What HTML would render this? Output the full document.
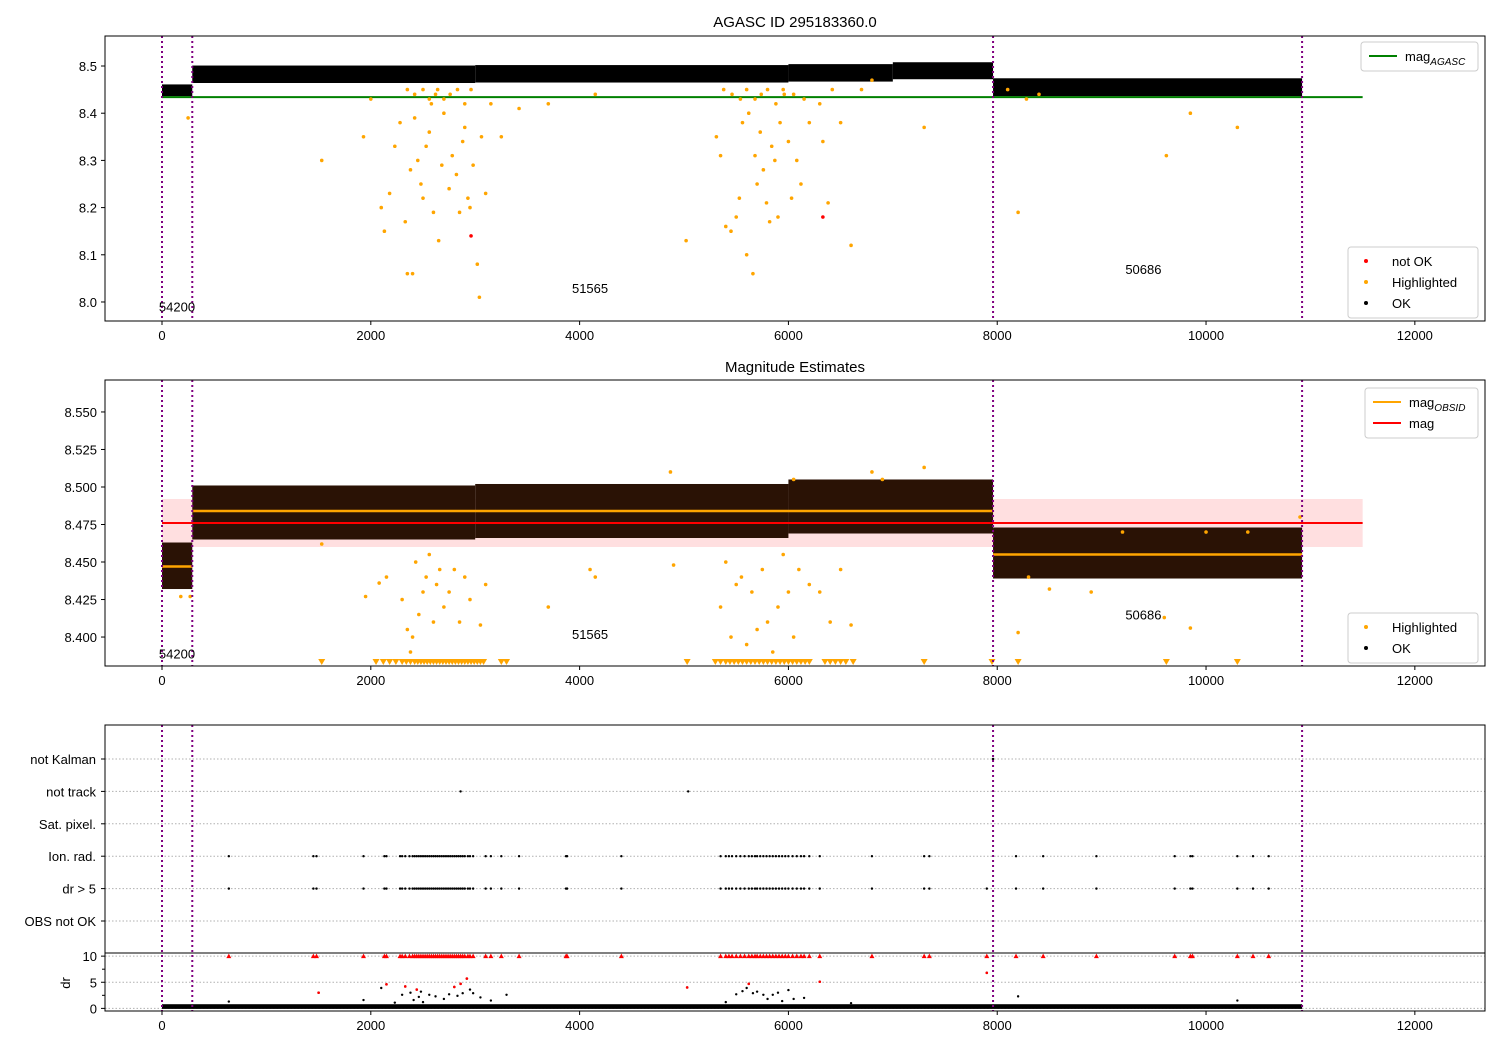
<!DOCTYPE html>
<html><head><meta charset="utf-8"><style>
body{margin:0;background:#fff}
svg{display:block;font-family:"Liberation Sans","DejaVu Sans",sans-serif}
text{fill:#000}
</style></head><body>
<svg id="fig" width="1500" height="1050" viewBox="0 0 1500 1050" xmlns="http://www.w3.org/2000/svg">
<rect width="1500" height="1050" fill="#fff"/>
<text x="795" y="27" font-size="15" text-anchor="middle">AGASC ID 295183360.0</text>
<text x="795" y="372" font-size="15" text-anchor="middle">Magnitude Estimates</text>
<g id="g1"></g>
<g id="g2"></g>
<g id="g3"></g>
</svg>
<script>
// ---- data ----
const obsBounds = [0, 290, 7960, 10920];
const obsids = ["54200", "51565", "50686"];
const agascMag = 8.434;
const magMean = 8.476, magLo = 8.460, magHi = 8.492;
const obsMeans = [8.447, 8.484, 8.455];
// band segments panel 1: [x0,x1,lo,hi]
const band1 = [[0,290,8.436,8.461],[290,3000,8.464,8.501],[3000,6000,8.465,8.502],[6000,7000,8.467,8.504],[7000,7960,8.472,8.508],[7960,10920,8.436,8.474]];
const band2 = [[0,290,8.432,8.463],[290,3000,8.465,8.501],[3000,6000,8.466,8.502],[6000,7960,8.469,8.505],[7960,10920,8.439,8.473]];
const hi1 = [[250,8.39],[1530,8.30],[1930,8.35],[2000,8.43],[2100,8.20],[2130,8.15],[2180,8.23],[2230,8.33],[2280,8.38],[2330,8.17],[2350,8.06],[2400,8.06],[2380,8.28],[2420,8.39],[2450,8.30],[2480,8.25],[2500,8.22],[2530,8.33],[2560,8.36],[2580,8.42],[2600,8.19],[2620,8.44],[2650,8.13],[2680,8.29],[2700,8.40],[2750,8.24],[2780,8.31],[2820,8.27],[2850,8.19],[2880,8.34],[2900,8.37],[2930,8.22],[2950,8.20],[2980,8.29],[3020,8.08],[3040,8.01],[3060,8.35],[3100,8.23],[3150,8.42],[3250,8.35],[3420,8.41],[3700,8.42],[4150,8.44],[5020,8.13],[5310,8.35],[5350,8.31],[5400,8.16],[5450,8.15],[5500,8.18],[5530,8.22],[5560,8.38],[5600,8.10],[5620,8.40],[5660,8.06],[5680,8.31],[5700,8.25],[5730,8.36],[5760,8.28],[5790,8.21],[5820,8.17],[5840,8.33],[5870,8.30],[5900,8.18],[5920,8.38],[5960,8.44],[6000,8.34],[6030,8.22],[6080,8.30],[6120,8.25],[6200,8.38],[6330,8.34],[6380,8.21],[6500,8.38],[6600,8.12],[6800,8.47],[7300,8.37],[8200,8.19],[8280,8.43],[9620,8.31],[9850,8.40],[10300,8.37],[2350,8.45],[2420,8.44],[2500,8.45],[2560,8.43],[2640,8.45],[2700,8.43],[2760,8.44],[2830,8.45],[2900,8.42],[2960,8.45],[5380,8.45],[5460,8.44],[5540,8.43],[5600,8.45],[5680,8.43],[5740,8.44],[5800,8.45],[5880,8.42],[5950,8.45],[6050,8.44],[6150,8.43],[6300,8.42],[6420,8.45],[6700,8.45],[8100,8.45],[8400,8.44]];
const bad1 = [[2960,8.14],[6330,8.18]];
const hi2 = [[180,8.427],[270,8.427],[1530,8.462],[1950,8.427],[2080,8.436],[2150,8.44],[2300,8.425],[2350,8.405],[2380,8.39],[2400,8.40],[2430,8.45],[2460,8.415],[2500,8.43],[2530,8.44],[2560,8.455],[2600,8.41],[2630,8.435],[2660,8.445],[2700,8.42],[2750,8.43],[2800,8.445],[2850,8.41],[2900,8.44],[2950,8.425],[3050,8.408],[3100,8.435],[3700,8.42],[4100,8.445],[4150,8.44],[4870,8.51],[4900,8.448],[5350,8.42],[5400,8.45],[5450,8.40],[5500,8.435],[5550,8.44],[5600,8.395],[5650,8.43],[5700,8.405],[5750,8.445],[5800,8.41],[5850,8.39],[5900,8.42],[5950,8.455],[6000,8.43],[6050,8.40],[6050,8.505],[6100,8.445],[6200,8.435],[6300,8.43],[6400,8.41],[6500,8.445],[6600,8.408],[6800,8.51],[6900,8.505],[7300,8.513],[8200,8.403],[8300,8.44],[8500,8.432],[8900,8.43],[9200,8.47],[9600,8.413],[9850,8.406],[10000,8.47],[10400,8.47],[10900,8.48]];
const clip2 = [1530,2050,2120,2180,2240,2300,2340,2380,2420,2450,2480,2510,2540,2570,2600,2630,2660,2690,2720,2750,2780,2810,2840,2870,2900,2930,2960,2990,3020,3050,3080,3250,3300,5030,5300,5350,5400,5440,5480,5520,5560,5600,5640,5680,5720,5760,5800,5840,5880,5920,5960,6000,6040,6080,6120,6160,6200,6350,6400,6450,6500,6550,6620,7300,7950,8200,9620,10300];
const flagCats = ["not Kalman","not track","Sat. pixel.","Ion. rad.","dr > 5","OBS not OK"];
const notKalmanX = [7960];
const notTrackX = [2860, 5040];
const ionX = [640,1450,1480,1930,2130,2150,2280,2300,2330,2370,2400,2420,2440,2460,2480,2500,2520,2540,2560,2580,2600,2620,2640,2660,2680,2700,2720,2740,2760,2780,2800,2820,2840,2860,2880,2900,2930,2950,2980,3100,3150,3250,3420,3870,3880,4400,5350,5400,5430,5460,5500,5540,5580,5620,5650,5680,5700,5730,5760,5790,5820,5850,5880,5910,5940,5970,6000,6040,6080,6120,6150,6200,6300,6800,7300,7350,8180,8440,8950,9700,9850,9870,10300,10450,10600];
const drBigX = ionX.concat([7900]);
const drScatter = [[640,1.3],[1500,3.0],[1930,1.6],[2100,3.9],[2150,4.6],[2230,1.1],[2300,2.6],[2330,4.2],[2380,3.0],[2410,1.6],[2440,3.6],[2460,2.2],[2480,3.2],[2500,1.2],[2560,2.6],[2620,2.3],[2700,1.8],[2750,2.7],[2800,4.1],[2830,2.4],[2860,4.7],[2880,2.9],[2920,5.7],[2950,3.6],[2980,2.9],[3050,2.1],[3150,1.5],[3300,2.6],[5030,4.0],[5400,1.2],[5500,2.7],[5560,3.3],[5600,3.9],[5620,4.7],[5660,2.9],[5700,3.2],[5760,2.6],[5800,1.8],[5850,2.6],[5900,3.0],[5940,1.4],[6000,3.5],[6050,1.8],[6150,2.0],[6300,5.1],[6600,1.0],[7900,6.8],[8200,2.3],[10300,1.5]];
const drRedSet = [[1500,3.0],[2150,4.6],[2330,4.2],[2440,3.6],[2800,4.1],[2860,4.7],[2920,5.7],[5030,4.0],[5620,4.7],[6300,5.1],[7900,6.8]];

// ---- drawing ----
const NS="http://www.w3.org/2000/svg";
function mk(parent,tag,attrs){const e=document.createElementNS(NS,tag);for(const k in attrs)e.setAttribute(k,attrs[k]);parent.appendChild(e);return e;}
const X0=105,X1=1485,XMIN=-546,XMAX=12672;
const sx=v=>X0+(v-XMIN)/(XMAX-XMIN)*(X1-X0);
function yScale(top,bot,vmin,vmax){return v=>bot-(v-vmin)/(vmax-vmin)*(bot-top);}
const xTicks=[0,2000,4000,6000,8000,10000,12000];

function xAxis(g,bot){
  xTicks.forEach(t=>{
    mk(g,'line',{x1:sx(t),x2:sx(t),y1:bot,y2:bot+4,stroke:'#000'});
    const tx=mk(g,'text',{x:sx(t),y:bot+19,'font-size':13,'text-anchor':'middle'});tx.textContent=t;
    
    
  });
}
function yAxis(g,ys,ticks,fmt){
  ticks.forEach(t=>{
    mk(g,'line',{x1:X0-4,x2:X0,y1:ys(t),y2:ys(t),stroke:'#000'});
    const tx=mk(g,'text',{x:X0-8,y:ys(t)+5,'font-size':13,'text-anchor':'end'});tx.textContent=fmt(t);
    
    
  });
}
function vlines(g,top,bot){
  obsBounds.forEach(b=>{const l=mk(g,'line',{x1:sx(b),x2:sx(b),y1:top,y2:bot,stroke:'purple','stroke-width':2,'stroke-dasharray':'2,3'});
    
    });
}
function dots(g,pts,ys,color,r,name){
  pts.forEach(p=>{const c=mk(g,'circle',{cx:sx(p[0]),cy:ys(p[1]),r:r,fill:color});
    
    });
}
function band(g,segs,ys,fill){
  segs.forEach(s=>{const r=mk(g,'rect',{x:sx(s[0]),y:ys(s[3]),width:sx(s[1])-sx(s[0]),height:ys(s[2])-ys(s[3]),fill:fill});
    
    });
}
function obsLabels(g,ys,vals){
  obsids.forEach((o,i)=>{
    const xx=i==0?sx(obsBounds[0])+15:i==1?sx(4100):sx(9400);
    const t=mk(g,'text',{x:xx,y:ys(vals[i])+5,'font-size':13,'text-anchor':'middle'});t.textContent=o;
    
    });
}
function frame(g,top,bot){mk(g,'rect',{x:X0,y:top,width:X1-X0,height:bot-top,fill:'none',stroke:'#000','stroke-width':1});}
function legend(g,x,y,w,items){
  const h=items.length*21+8;
  mk(g,'rect',{x:x,y:y,width:w,height:h,fill:'#fff','fill-opacity':0.85,stroke:'#ccc',rx:3});
  items.forEach((it,i)=>{const cy=y+14+i*21;
    if(it.type=='line')mk(g,'line',{x1:x+8,x2:x+36,y1:cy,y2:cy,stroke:it.color,'stroke-width':2});
    else mk(g,'circle',{cx:x+18,cy:cy,r:2,fill:it.color});
    const t=mk(g,'text',{x:x+44,y:cy+5,'font-size':13});t.innerHTML=it.label;
    
    });
}

// Panel 1
(function(){
  const g=document.getElementById('g1');const top=36,bot=321;
  const ys=yScale(top,bot,7.9597,8.5636);
  band(g,band1,ys,'#000');
  const gl=mk(g,'line',{x1:sx(0),x2:sx(11500),y1:ys(agascMag),y2:ys(agascMag),stroke:'green','stroke-width':2});
  
  
  dots(g,hi1,ys,'orange',1.8,'highlighted-point');
  dots(g,bad1,ys,'red',1.8,'not-ok-point');
  vlines(g,top,bot);
  obsLabels(g,ys,[7.99,8.03,8.07]);
  frame(g,top,bot);
  yAxis(g,ys,[8.0,8.1,8.2,8.3,8.4,8.5],t=>t.toFixed(1));
  xAxis(g,bot);
  legend(g,1361,42,117,[{type:'line',color:'green',label:'mag<tspan font-size="10" font-style="italic" dy="4">AGASC</tspan>'}]);
  legend(g,1348,247,130,[{type:'dot',color:'red',label:'not OK'},{type:'dot',color:'orange',label:'Highlighted'},{type:'dot',color:'#000',label:'OK'}]);
})();

// Panel 2
(function(){
  const g=document.getElementById('g2');const top=380,bot=666;
  const ys=yScale(top,bot,8.3807,8.5713);
  const pb=mk(g,'rect',{x:sx(0),y:ys(magHi),width:sx(11500)-sx(0),height:ys(magLo)-ys(magHi),fill:'#ffdfe0'});
  
  
  band(g,band2,ys,'#2a1205');
  obsMeans.forEach((m,i)=>{const l=mk(g,'line',{x1:sx(obsBounds[i]),x2:sx(obsBounds[i+1]),y1:ys(m),y2:ys(m),stroke:'orange','stroke-width':2.5});
    
    });
  const rl=mk(g,'line',{x1:sx(0),x2:sx(11500),y1:ys(magMean),y2:ys(magMean),stroke:'red','stroke-width':2});
  
  
  dots(g,hi2,ys,'orange',1.8,'highlighted-point');
  clip2.forEach(x=>{const cx=sx(x),cy=bot-4;
    const p=mk(g,'path',{d:`M${cx-3.5},${cy-3} L${cx+3.5},${cy-3} L${cx},${cy+3} Z`,fill:'orange'});
    
    });
  vlines(g,top,bot);
  obsLabels(g,ys,[8.389,8.402,8.415]);
  frame(g,top,bot);
  yAxis(g,ys,[8.4,8.425,8.45,8.475,8.5,8.525,8.55],t=>t.toFixed(3));
  xAxis(g,bot);
  legend(g,1365,388,113,[{type:'line',color:'orange',label:'mag<tspan font-size="10" font-style="italic" dy="4">OBSID</tspan>'},{type:'line',color:'red',label:'mag'}]);
  legend(g,1348,613,130,[{type:'dot',color:'orange',label:'Highlighted'},{type:'dot',color:'#000',label:'OK'}]);
})();

// Panel 3
(function(){
  const g=document.getElementById('g3');const top=725,mid=953,bot=1011;
  const rowY=i=>759+i*32.4;
  flagCats.forEach((c,i)=>{
    mk(g,'line',{x1:X0,x2:X1,y1:rowY(i),y2:rowY(i),stroke:'#b0b0b0','stroke-dasharray':'1.5,2'});
    mk(g,'line',{x1:X0-4,x2:X0,y1:rowY(i),y2:rowY(i),stroke:'#000'});
    const t=mk(g,'text',{x:X0-9,y:rowY(i)+5,'font-size':13,'text-anchor':'end'});t.textContent=c;
    
    
  });
  const fd=(xs,row)=>xs.forEach(x=>{const c=mk(g,'circle',{cx:sx(x),cy:rowY(row),r:1.2,fill:'#000'});
    
    });
  fd(notKalmanX,0);fd(notTrackX,1);fd(ionX,3);fd(drBigX,4);
  const ys=yScale(mid,bot,-0.5,10.6);
  [0,5,10].forEach(t=>mk(g,'line',{x1:X0,x2:X1,y1:ys(t),y2:ys(t),stroke:'#b0b0b0','stroke-dasharray':'1.5,2'}));
  [2.5,7.5].forEach(t=>mk(g,'line',{x1:X0-3,x2:X0,y1:ys(t),y2:ys(t),stroke:'#000'}));
  const db=mk(g,'rect',{x:sx(0),y:ys(0.8),width:sx(10920)-sx(0),height:ys(-0.1)-ys(0.8),fill:'#000'});
  
  
  dots(g,drScatter,ys,'#000',1.2,'dr-point');
  dots(g,drRedSet,ys,'red',1.3,'dr-large-point');
  drBigX.forEach(x=>{const cx=sx(x),cy=ys(10);
    const p=mk(g,'path',{d:`M${cx-2.5},${cy+2} L${cx+2.5},${cy+2} L${cx},${cy-2.5} Z`,fill:'red'});
    
    });
  vlines(g,top,bot);
  frame(g,top,bot);
  mk(g,'line',{x1:X0,x2:X1,y1:mid,y2:mid,stroke:'#000'});
  yAxis(g,ys,[0,5,10],t=>t);
  const yl=mk(g,'text',{x:70,y:983,'font-size':13,'text-anchor':'middle',transform:'rotate(-90 70 983)'});yl.textContent='dr';
  
  
  xAxis(g,bot);
})();
</script>
</body></html>
